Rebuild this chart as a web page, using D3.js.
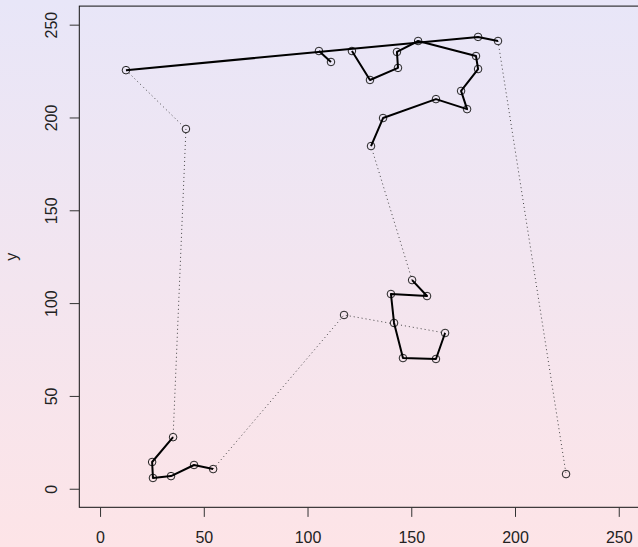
<!DOCTYPE html>
<html>
<head>
<meta charset="utf-8">
<script src="https://cdn.jsdelivr.net/npm/d3@7"></script>
<style>
  body { margin: 0; }
  text { font-family: "Liberation Sans", Arial, sans-serif; }
</style>
</head>
<body>
<script>
// point coordinates
var xs = [12.5, 41.4, 35.2, 25.1, 25.5, 34.2, 45.3, 54.5, 117.6, 166.3,
          161.9, 146.0, 141.7, 140.2, 157.6, 150.4, 130.6, 136.4, 161.9, 176.9,
          174.0, 182.2, 181.2, 153.3, 143.1, 143.6, 130.1, 121.4, 105.5, 111.3,
          182.2, 191.8, 224.6];
var ys = [225.5, 193.8, 27.8, 14.4, 5.8, 6.8, 12.8, 10.6, 93.6, 83.9,
          69.9, 70.4, 89.3, 104.9, 103.8, 112.4, 184.6, 199.7, 209.9, 204.5,
          214.3, 226.1, 233.1, 241.2, 235.3, 226.7, 220.2, 235.8, 235.8, 229.9,
          243.4, 241.2, 7.9];

// legs of the route, as chains of point indices
var solidChains = [
  [2, 3, 4, 5, 6, 7],
  [9, 10, 11, 12, 13, 14, 15],
  [16, 17, 18, 19, 20, 21, 22, 23, 24, 25, 26, 27],
  [0, 30, 31],
  [28, 29]
];
var dottedChains = [
  [0, 1, 2],
  [7, 8, 9],
  [15, 16],
  [31, 32]
];

var xTicks = [0, 50, 100, 150, 200, 250];
var yTicks = [0, 50, 100, 150, 200, 250];

var svgWidth = 638;
var svgHeight = 547;

var svg = d3.select("body")
  .append("svg")
  .attr("width", svgWidth)
  .attr("height", svgHeight);

// background gradient (lavender -> pink)
var grad = svg.append("defs").append("linearGradient")
  .attr("id", "bg")
  .attr("x1", 0).attr("y1", 0)
  .attr("x2", 0).attr("y2", 1);
grad.append("stop").attr("offset", "0%").attr("stop-color", "#e8e6f8");
grad.append("stop").attr("offset", "100%").attr("stop-color", "#fde4e7");

svg.append("rect")
  .attr("width", svgWidth)
  .attr("height", svgHeight)
  .attr("fill", "url(#bg)");

// scales: R style 4% padding around 0..250
var x = d3.scaleLinear().domain([-10, 260]).range([79.3, 639.5]);
var y = d3.scaleLinear().domain([-10, 260]).range([507.3, 6.1]);

// box
svg.append("rect")
  .attr("x", x(-10))
  .attr("y", y(260))
  .attr("width", x(260) - x(-10))
  .attr("height", y(-10) - y(260))
  .attr("fill", "none")
  .attr("stroke", "#111")
  .attr("stroke-width", 1);

// axes
var xAxis = svg.append("g")
  .attr("transform", `translate(0, ${y(-10)})`)
  .call(d3.axisBottom(x).tickValues(xTicks).tickSize(9.6).tickFormat(d3.format("d")));
xAxis.select(".domain").remove();
xAxis.selectAll("line").attr("stroke", "#333");
xAxis.selectAll("text")
  .attr("y", 36)
  .attr("dy", 0)
  .attr("fill", "#222")
  .style("font-size", "16px")
  .style("font-family", "Liberation Sans, Arial, sans-serif");

var yAxis = svg.append("g")
  .attr("transform", `translate(${x(-10)}, 0)`)
  .call(d3.axisLeft(y).tickValues(yTicks).tickSize(9.6).tickFormat(d3.format("d")));
yAxis.select(".domain").remove();
yAxis.selectAll("line").attr("stroke", "#333");
yAxis.selectAll("text")
  .attr("x", 0)
  .attr("y", -22.6)
  .attr("dy", 0)
  .attr("text-anchor", "middle")
  .attr("transform", "rotate(-90)")
  .attr("fill", "#222")
  .style("font-size", "16px")
  .style("font-family", "Liberation Sans, Arial, sans-serif");

// y label
svg.append("text")
  .attr("transform", `translate(17, ${(y(-10) + y(260)) / 2}) rotate(-90)`)
  .attr("text-anchor", "middle")
  .attr("fill", "#222")
  .style("font-size", "16px")
  .text("y");

var line = d3.line()
  .x(i => x(xs[i]))
  .y(i => y(ys[i]));

// points
svg.append("g").selectAll("circle")
  .data(xs.map((d, i) => i))
  .enter()
  .append("circle")
  .attr("cx", i => x(xs[i]))
  .attr("cy", i => y(ys[i]))
  .attr("r", 3.8)
  .attr("fill", "none")
  .attr("stroke", "#222")
  .attr("stroke-width", 1);

// dotted legs
svg.append("g").selectAll("path")
  .data(dottedChains)
  .enter()
  .append("path")
  .attr("d", line)
  .attr("fill", "none")
  .attr("stroke", "#444")
  .attr("stroke-width", 1)
  .attr("stroke-dasharray", "1,3");

// solid legs
svg.append("g").selectAll("path")
  .data(solidChains)
  .enter()
  .append("path")
  .attr("d", line)
  .attr("fill", "none")
  .attr("stroke", "#000")
  .attr("stroke-width", 2)
  .attr("stroke-linejoin", "round");
</script>
</body>
</html>
